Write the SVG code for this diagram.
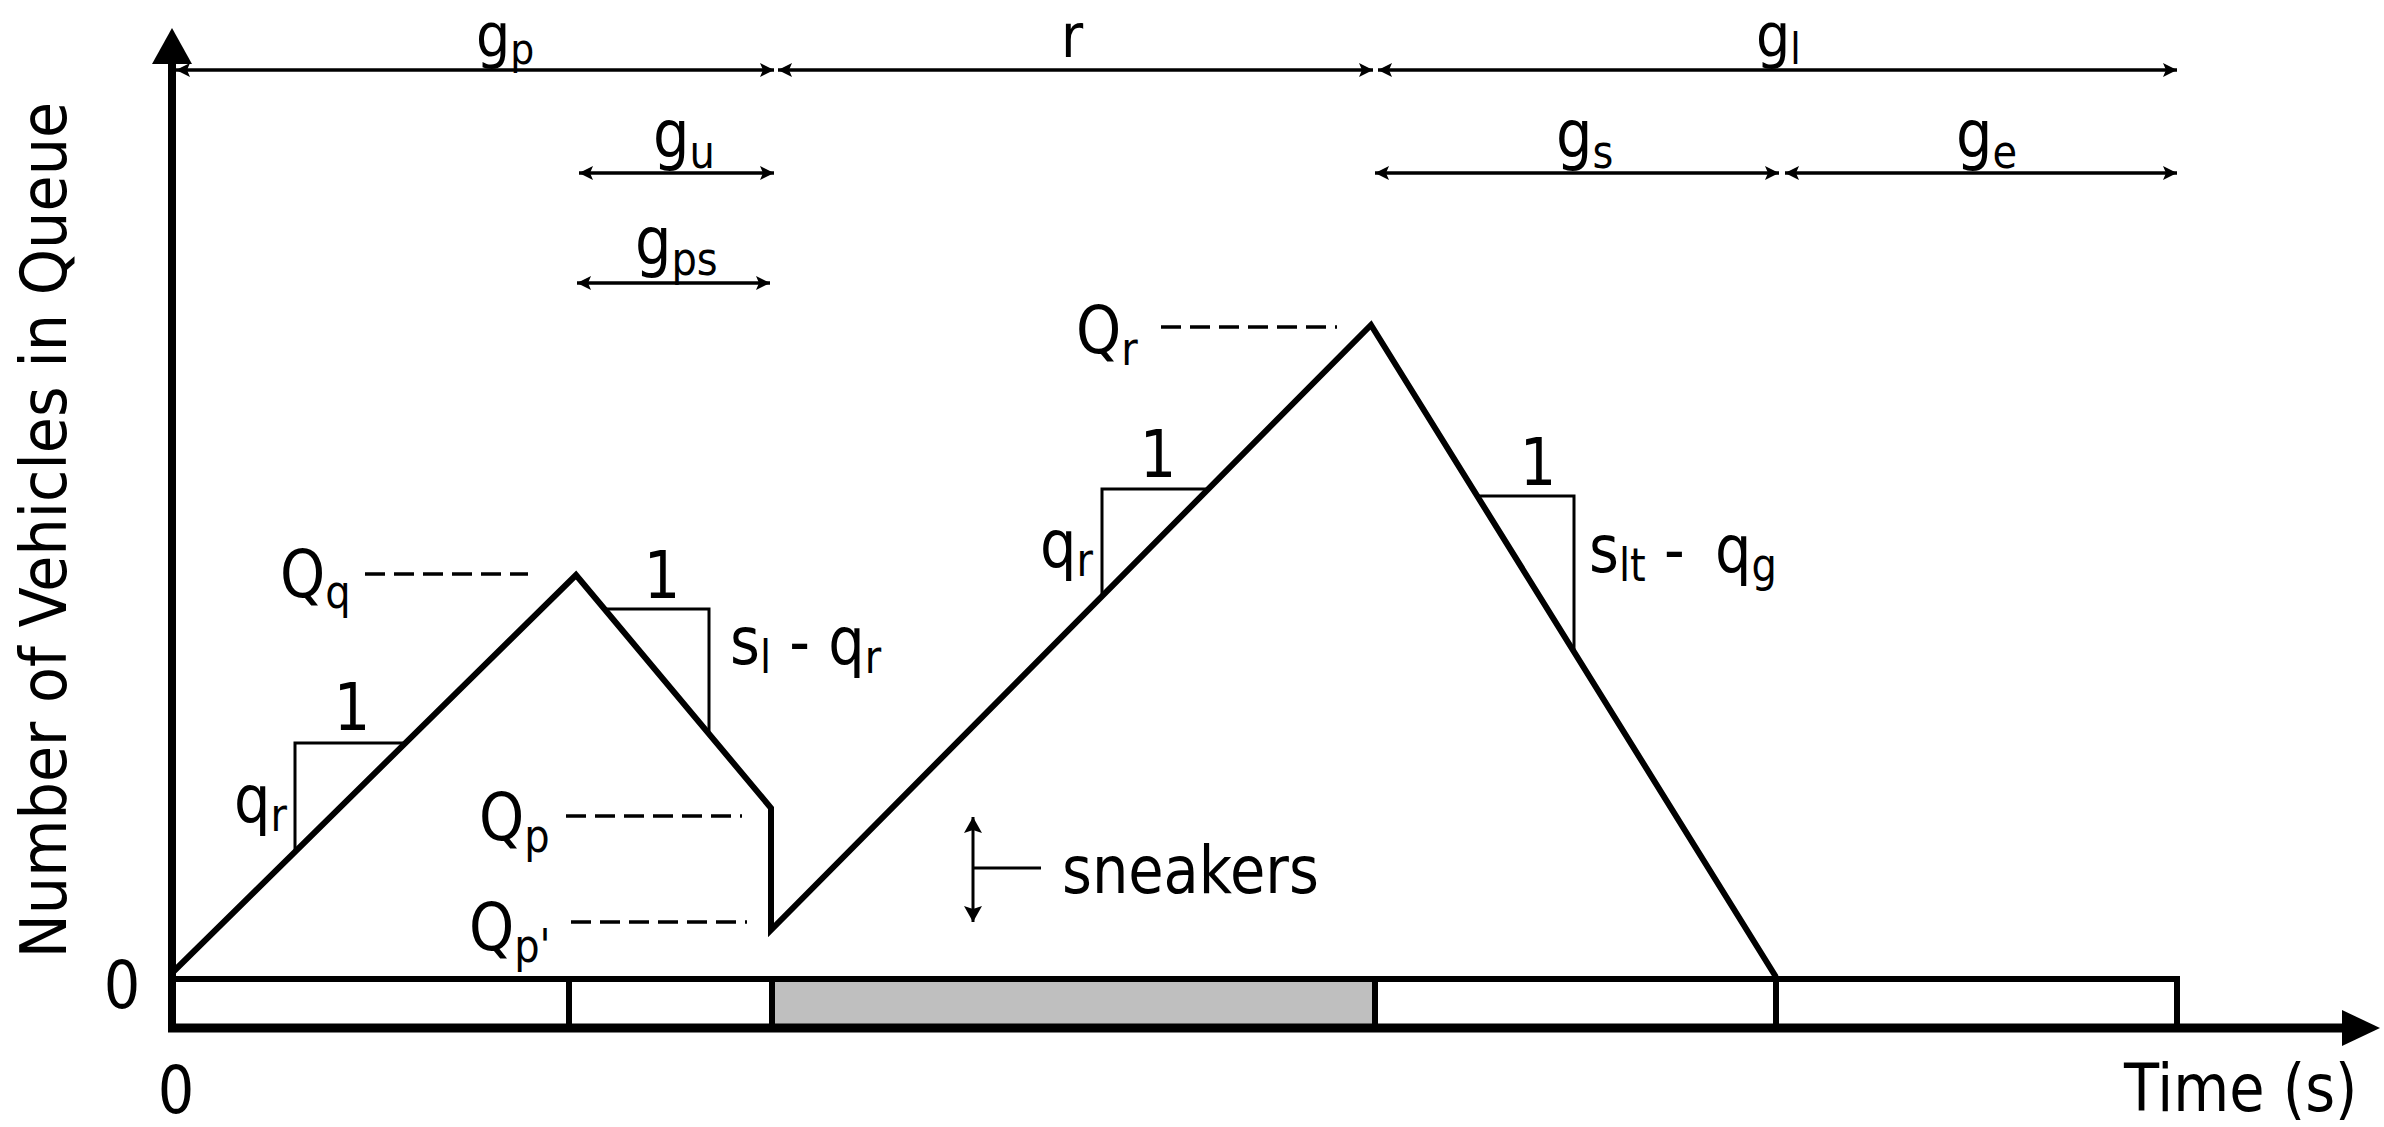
<svg xmlns="http://www.w3.org/2000/svg" width="2384" height="1127" viewBox="0 0 2384 1127">
<defs>
<marker id="ah" viewBox="0 0 14 14" refX="14" refY="7" markerWidth="14" markerHeight="14" markerUnits="userSpaceOnUse" orient="auto-start-reverse"><path d="M0,0 L14,7 L0,14 L3,7 Z" fill="#000"/></marker>
<marker id="ahs" viewBox="0 0 16 18" refX="16" refY="9" markerWidth="16" markerHeight="18" markerUnits="userSpaceOnUse" orient="auto-start-reverse"><path d="M0,0 L16,9 L0,18 L3,9 Z" fill="#000"/></marker>
<style>
.t{font-family:"DejaVu Sans",Verdana,sans-serif;font-size:66px;fill:#000}
.s{font-size:46px}
.top{font-size:60px}
.top .s{font-size:42px}
.m{text-anchor:middle}
.dim{stroke:#000;stroke-width:3.5;fill:none;marker-start:url(#ah);marker-end:url(#ah)}
.dash{stroke:#000;stroke-width:3.5;stroke-dasharray:20 9;fill:none}
.thin{stroke:#000;stroke-width:3;fill:none}
.curve{stroke:#000;stroke-width:6;fill:none;stroke-linejoin:miter}
.bar{stroke:#000;stroke-width:6;fill:none}
</style>
</defs>
<rect width="2384" height="1127" fill="#fff"/>

<g id="signal-bar">
<rect x="772" y="979" width="603" height="49" fill="#bfbfbf"/>
<path class="bar" d="M172,979 H2177 V1028"/>
<line class="bar" x1="569" y1="979" x2="569" y2="1028"/>
<line class="bar" x1="772" y1="979" x2="772" y2="1028"/>
<line class="bar" x1="1375" y1="979" x2="1375" y2="1028"/>
<line class="bar" x1="1776" y1="979" x2="1776" y2="1028"/>
</g>

<g id="axes">
<line x1="172" y1="1032" x2="172" y2="60" stroke="#000" stroke-width="8"/>
<polygon points="172,28 152,64 192,64" fill="#000"/>
<line x1="168" y1="1028" x2="2345" y2="1028" stroke="#000" stroke-width="9"/>
<polygon points="2380,1028 2342,1010 2342,1046" fill="#000"/>
<text class="t m" transform="translate(66,530) rotate(-90) scale(0.92,1)" style="font-size:64px">Number of Vehicles in Queue</text>
<text class="t m" transform="matrix(0.87 0 0 1 122 1008)">0</text>
<text class="t m" transform="matrix(0.87 0 0 1 176 1113)">0</text>
<text class="t" transform="matrix(0.87 0 0 1 2124 1111)">Time (s)</text>
</g>

<g id="queue-curve">
<polyline class="curve" points="173,972 576,575 771,808 771,930 1371,325 1776,977"/>
</g>

<g id="slope-triangles">
<polyline class="thin" points="295,851 295,743 404,743"/>
<polyline class="thin" points="606,609 709,609 709,734"/>
<polyline class="thin" points="1102,597 1102,489 1209,489"/>
<polyline class="thin" points="1477,496 1574,496 1574,652"/>
<text class="t m" transform="matrix(0.87 0 0 1 352 730)">1</text>
<text class="t m" transform="matrix(0.87 0 0 1 662 598)">1</text>
<text class="t m" transform="matrix(0.87 0 0 1 1158 477)">1</text>
<text class="t m" transform="matrix(0.87 0 0 1 1538 485)">1</text>
<text class="t" transform="matrix(0.87 0 0 1 234 822)">q<tspan class="s" dy="9">r</tspan></text>
<text class="t" transform="matrix(0.87 0 0 1 1040 567)">q<tspan class="s" dy="9">r</tspan></text>
<text class="t" transform="matrix(0.87 0 0 1 730 664)">s<tspan class="s" dy="9">l</tspan><tspan dy="-9"> - q</tspan><tspan class="s" dy="9">r</tspan></text>
<text class="t" transform="matrix(0.87 0 0 1 1589 572)">s<tspan class="s" dy="9">lt</tspan><tspan dy="-9"> - </tspan><tspan dx="14">q</tspan><tspan class="s" dy="9">g</tspan></text>
</g>

<g id="queue-levels">
<line class="dash" x1="365" y1="574" x2="528" y2="574"/>
<line class="dash" x1="566" y1="816" x2="742" y2="816"/>
<line class="dash" x1="571" y1="922" x2="747" y2="922"/>
<line class="dash" x1="1161" y1="327" x2="1337" y2="327"/>
<text class="t" transform="matrix(0.87 0 0 1 280 597)">Q<tspan class="s" dy="11">q</tspan></text>
<text class="t" transform="matrix(0.87 0 0 1 479 840)">Q<tspan class="s" dy="12">p</tspan></text>
<text class="t" transform="matrix(0.87 0 0 1 469 950)">Q<tspan class="s" dy="12">p'</tspan></text>
<text class="t" transform="matrix(0.87 0 0 1 1076 353)">Q<tspan class="s" dy="12">r</tspan></text>
</g>

<g id="sneakers">
<line class="thin" x1="973" y1="817" x2="973" y2="922" marker-start="url(#ahs)" marker-end="url(#ahs)"/>
<line class="thin" x1="973" y1="868" x2="1041" y2="868"/>
<text class="t" transform="matrix(0.87 0 0 1 1062 893)">sneakers</text>
</g>

<g id="connectors">
<line class="dim" x1="176" y1="70" x2="774" y2="70"/>
<line class="dim" x1="778" y1="70" x2="1373" y2="70"/>
<line class="dim" x1="1378" y1="70" x2="2177" y2="70"/>
<line class="dim" x1="579" y1="173" x2="774" y2="173"/>
<line class="dim" x1="1375" y1="173" x2="1779" y2="173"/>
<line class="dim" x1="1785" y1="173" x2="2177" y2="173"/>
<line class="dim" x1="577" y1="283" x2="770" y2="283"/>
</g>

<g id="interval-labels">
<text class="t top" transform="matrix(0.9 0 0 1 476 56)">g<tspan class="s" dy="8">p</tspan></text>
<text class="t top" transform="matrix(0.9 0 0 1 1061 57)">r</text>
<text class="t top" transform="matrix(0.9 0 0 1 1756 56)">g<tspan class="s" dy="8">l</tspan></text>
<text class="t" transform="matrix(0.87 0 0 1 653 157)">g<tspan class="s" dy="11">u</tspan></text>
<text class="t" transform="matrix(0.87 0 0 1 1556 157)">g<tspan class="s" dy="11">s</tspan></text>
<text class="t" transform="matrix(0.87 0 0 1 1956 157)">g<tspan class="s" dy="11">e</tspan></text>
<text class="t" transform="matrix(0.87 0 0 1 635 264)">g<tspan class="s" dy="11">ps</tspan></text>
</g>
</svg>
